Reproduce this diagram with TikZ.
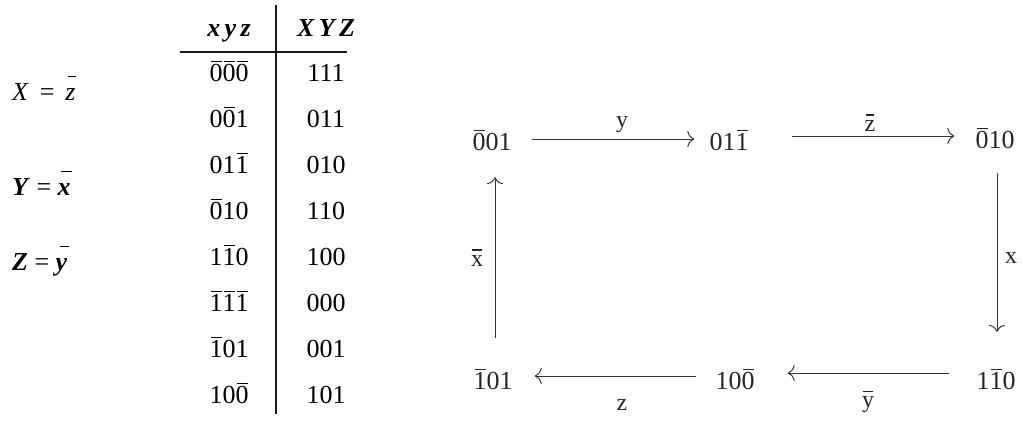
\documentclass[tikz,border=0pt]{standalone}
\usepackage{fontspec}
\setmainfont{Liberation Serif}
\usetikzlibrary{arrows.meta}
\newcommand\obx[3]{\setbox0\hbox{#3}\rlap{\hspace{#2}\raisebox{#1}{\rule{\dimexpr\wd0-2pt\relax}{1.1pt}}}\box0\relax}
\newcommand\obr[2]{\obx{#1}{1pt}{#2}}
\newcommand\ob[1]{\obr{19pt}{#1}}
\begin{document}
\begin{tikzpicture}[x=1pt,y=-1pt,
  every node/.style={font=\fontsize{26}{30}\selectfont},
  cell/.style={inner sep=0pt,text height=18pt,text depth=0pt,anchor=center},
  state/.style={inner sep=0pt,text height=18pt,text depth=0pt,anchor=center,text=black!85},
  lbl/.style={inner sep=0pt,text=black!85,font=\fontsize{24}{28}\selectfont},
  eq/.style={inner sep=0pt,anchor=west},
  rule/.style={line width=1.6pt,black!90},
  trans/.style={line width=1pt,black!80,-{To[length=7pt,width=16pt]}}]
\useasboundingbox (0,0) rectangle (1022,421);
% equations
\node[eq] (eqX) at (12,88) {\textit{X} \,=\, \obx{23pt}{3pt}{\textit{z}}};
\node[eq] (eqY) at (12,183) {\textbf{\textit{Y}} = \obx{23pt}{3pt}{\textbf{\textit{x}}}};
\node[eq] (eqZ) at (12,261) {\textbf{\textit{Z}} = \obx{23pt}{4pt}{\textbf{\textit{y}}}};
% table
\node[cell] (h1) at (229,27) {\textbf{\textit{x\,y\,z}}};
\node[cell] (h2) at (326,27) {\textbf{\textit{X\,Y\,Z}}};
\coordinate (rl) at (180,52);
\coordinate (rr) at (347,52);
\coordinate (vt) at (276,5);
\coordinate (vb) at (276,414);
\draw[rule] (rl) -- (rr);
\draw[rule] (vt) -- (vb);
\node[cell] (a1) at (229,72) {\ob{0}\ob{0}\ob{0}};
\node[cell] (a2) at (229,118) {0\ob{0}1};
\node[cell] (a3) at (229,164) {01\ob{1}};
\node[cell] (a4) at (229,210) {\ob{0}10};
\node[cell] (a5) at (229,256) {1\ob{1}0};
\node[cell] (a6) at (229,302) {\ob{1}\ob{1}\ob{1}};
\node[cell] (a7) at (229,348) {\ob{1}01};
\node[cell] (a8) at (229,394) {10\ob{0}};
\node[cell] (b1) at (326,72) {111};
\node[cell] (b2) at (326,118) {011};
\node[cell] (b3) at (326,164) {010};
\node[cell] (b4) at (326,210) {110};
\node[cell] (b5) at (326,256) {100};
\node[cell] (b6) at (326,302) {000};
\node[cell] (b7) at (326,348) {001};
\node[cell] (b8) at (326,394) {101};
% state graph
\node[state] (A) at (492,141) {\ob{0}01};
\node[state] (B) at (729,141) {01\ob{1}};
\node[state] (C) at (995,139) {\ob{0}10};
\node[state] (D) at (996,380) {1\ob{1}0};
\node[state] (E) at (735,380) {10\ob{0}};
\node[state] (F) at (493,380) {\ob{1}01};
\draw[trans,shorten <=20pt,shorten >=15pt] ([yshift=2pt]A.east) -- ([yshift=2pt]B.west);
\draw[trans,shorten <=43pt,shorten >=21pt] ([yshift=5pt]B.east) -- ([yshift=3pt]C.west);
\draw[trans,shorten <=25pt,shorten >=39pt] ([xshift=2pt]C.south) -- ([xshift=1pt]D.north);
\draw[trans,shorten <=27pt,shorten >=33pt] ([yshift=7pt]D.west) -- ([yshift=7pt]E.east);
\draw[trans,shorten <=19pt,shorten >=22pt] ([yshift=4pt]E.west) -- ([yshift=4pt]F.east);
\draw[trans,shorten <=33pt,shorten >=27pt] ([xshift=2pt]F.north) -- ([xshift=3pt]A.south);
\node[lbl] (ly) at (622,125) {y};
\node[lbl] (lz1) at (870,123) {\obr{16pt}{z}};
\node[lbl] (lx) at (1011,258) {x};
\node[lbl] (ly1) at (868,402) {\obr{16pt}{y}};
\node[lbl] (lz) at (622,405) {z};
\node[lbl] (lx1) at (477,258) {\obr{16pt}{x}};
\end{tikzpicture}
\end{document}
